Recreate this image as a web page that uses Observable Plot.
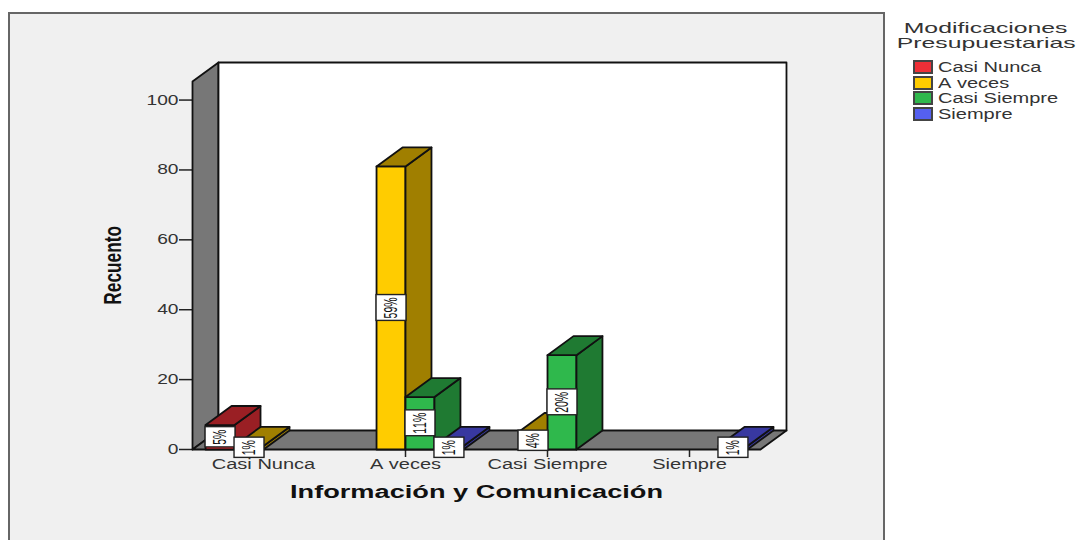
<!DOCTYPE html>
<html lang="es">
<head>
<meta charset="utf-8">
<title>Información y Comunicación</title>
<script src="https://cdn.jsdelivr.net/npm/d3@7"></script>
<script src="https://cdn.jsdelivr.net/npm/@observablehq/plot@0.6"></script>
<style>
  html, body { margin: 0; padding: 0; background: #fff; width: 1076px; height: 540px; overflow: hidden; }
  body { position: relative; font-family: "Liberation Sans", Arial, sans-serif; font-kerning: none; }
  #panel { position: absolute; left: 8px; top: 12px; width: 873px; height: 540px; background: #f0f0f0; border: 2px solid #666; box-sizing: content-box; }
  #chart { position: absolute; left: 0; top: 0; }
  #chart svg { overflow: visible; font-kerning: none; }
  #chart svg g[aria-label="x-axis tick label"] text,
  #chart svg g[aria-label="y-axis tick label"] text { fill: #333; }
  #legend { position: absolute; left: 888px; top: 0; width: 188px; color: #333; }
  #legend .title { position: absolute; left: 98px; width: 0; display: flex; justify-content: center; font-size: 15px; line-height: 15px; white-space: nowrap; }
  #legend .title span { transform: scaleX(1.65); transform-origin: center; }
  #legend .row { position: absolute; left: 25px; height: 16px; display: flex; align-items: center; font-size: 14px; white-space: nowrap; }
  #legend .row span.name { display: inline-block; transform: scaleX(1.43); transform-origin: left center; }
  #legend .swatch { width: 16px; height: 10px; border: 2px solid #444; margin-right: 5px; }
</style>
</head>
<body>
<div id="panel"></div>
<div id="chart"></div>
<div id="legend"></div>
<script>
// Counts per row category, one list for each response series.
const categories = ["Casi Nunca", "A veces", "Casi Siempre", "Siempre"];
const seriesNames = ["Casi Nunca", "A veces", "Casi Siempre", "Siempre"];
const legendTitle = ["Modificaciones", "Presupuestarias"];
const casiNuncaCounts = [7, 0, 0, 0];
const aVecesCounts = [1, 81, 5, 0];
const casiSiempreCounts = [0, 15, 27, 0];
const siempreCounts = [0, 1, 0, 1];
const casiNuncaLabels = ["5%", "", "", ""];
const aVecesLabels = ["1%", "59%", "4%", ""];
const casiSiempreLabels = ["", "11%", "20%", ""];
const siempreLabels = ["", "1%", "", "1%"];
const yTicks = [0, 20, 40, 60, 80, 100];

const frontColors = ["#ee2f37", "#ffcc00", "#2fb84c", "#5560f0"];
const shadeColors = ["#9a1f24", "#a07f00", "#1f7a32", "#3838a0"];
const wallColor = "#777777";

const countsBySeries = [casiNuncaCounts, aVecesCounts, casiSiempreCounts, siempreCounts];
const labelsBySeries = [casiNuncaLabels, aVecesLabels, casiSiempreLabels, siempreLabels];

// The oblique projection, in units of the two scales.
const barWidth = 0.204;
const depthX = 0.183;
const depthY = 5.45;
const yTop = 105.3;
const xEnd = categories.length;

const faces = [];
function addFace(points, fill) {
  const id = faces.length ? faces[faces.length - 1].id + 1 : 0;
  [...points, points[0]].forEach(([x, y]) => faces.push({id, x, y, fill}));
}

// Side wall, floor and back wall of the chart box.
addFace([[0, 0], [0, yTop], [depthX, yTop + depthY], [depthX, depthY]], wallColor);
addFace([[0, 0], [depthX, depthY], [xEnd + depthX, depthY], [xEnd, 0]], wallColor);
addFace([[depthX, depthY], [depthX, yTop + depthY], [xEnd + depthX, yTop + depthY], [xEnd + depthX, depthY]], "#ffffff");

// Clustered prisms, left to right so nearer faces overlap correctly.
const labelRows = [];
categories.forEach((_, c) => {
  seriesNames.forEach((_, s) => {
    const v = countsBySeries[s][c];
    if (!v) return;
    const x0 = c + 0.5 + (s - 2) * barWidth;
    const x1 = x0 + barWidth;
    addFace([[x0, 0], [x0, v], [x1, v], [x1, 0]], frontColors[s]);
    addFace([[x1, 0], [x1, v], [x1 + depthX, v + depthY], [x1 + depthX, depthY]], shadeColors[s]);
    addFace([[x0, v], [x0 + depthX, v + depthY], [x1 + depthX, v + depthY], [x1, v]], shadeColors[s]);
    const label = labelsBySeries[s][c];
    const half = label.length > 2 ? 3.7 : 2.9;
    labelRows.push({x1: x0, x2: x1 + 0.007, y1: v / 2 - half, y2: v / 2 + half, xm: x0 + barWidth / 2, ym: v / 2, label});
  });
});

const chart = Plot.plot({
  width: 1076,
  height: 540,
  marginLeft: 192,
  marginRight: 316,
  marginTop: 62,
  marginBottom: 91,
  style: {background: "transparent", fontFamily: '"Liberation Sans", Arial, sans-serif'},
  x: {domain: [0, xEnd], axis: null},
  y: {domain: [0, yTop + depthY], axis: null},
  color: {type: "identity"},
  marks: [
    Plot.axisY({ticks: yTicks, tickSize: 13, tickPadding: 1, fontSize: 14, label: null, stroke: "#222", strokeWidth: 1.5}),
    Plot.axisX({
      ticks: categories.map((_, i) => i + 0.5),
      tickFormat: (d) => categories[Math.floor(d)],
      tickSize: 8, tickPadding: 2, fontSize: 14, label: null, stroke: "#222", strokeWidth: 1.5
    }),
    Plot.line(faces, {x: "x", y: "y", z: "id", fill: "fill", stroke: "#111", strokeWidth: 1.8, strokeLinejoin: "round"}),
    Plot.rect(labelRows, {x1: "x1", x2: "x2", y1: "y1", y2: "y2", fill: "#fff", stroke: "#222", strokeWidth: 1.4}),
    Plot.text(labelRows, {x: "xm", y: "ym", text: "label", rotate: -90, fontSize: 18, fill: "#111", className: "pct"}),
    Plot.text(["Recuento"], {x: -0.556, y: 52.7, rotate: -90, fontSize: 23, fontWeight: "bold", fill: "#111", className: "ytitle"}),
    Plot.text(["Información y Comunicación"], {frameAnchor: "bottom", dy: 48, fontSize: 18, fontWeight: "bold", fill: "#111", className: "xtitle"})
  ]
});
document.getElementById("chart").append(chart);

// Widen or narrow drawn text without changing its height.
function stretch(selector, factor) {
  chart.querySelectorAll(selector).forEach((t) => {
    t.setAttribute("textLength", t.getComputedTextLength() * factor);
    t.setAttribute("lengthAdjust", "spacingAndGlyphs");
  });
}
stretch('g[aria-label="x-axis tick label"] text', 1.43);
stretch('g[aria-label="y-axis tick label"] text', 1.37);
stretch(".xtitle text", 1.51);
stretch(".ytitle text", 0.75);
stretch(".pct text", 0.58);

// Legend beside the chart box.
const legend = document.getElementById("legend");
legendTitle.forEach((line, i) => {
  const title = document.createElement("div");
  title.className = "title";
  title.style.top = (20 + i * 15) + "px";
  const span = document.createElement("span");
  span.textContent = line;
  title.append(span);
  legend.append(title);
});
seriesNames.forEach((name, i) => {
  const row = document.createElement("div");
  row.className = "row";
  row.style.top = (59 + i * 15.7) + "px";
  const swatch = document.createElement("span");
  swatch.className = "swatch";
  swatch.style.background = frontColors[i];
  const label = document.createElement("span");
  label.className = "name";
  label.textContent = name;
  row.append(swatch, label);
  legend.append(row);
});
</script>
</body>
</html>
